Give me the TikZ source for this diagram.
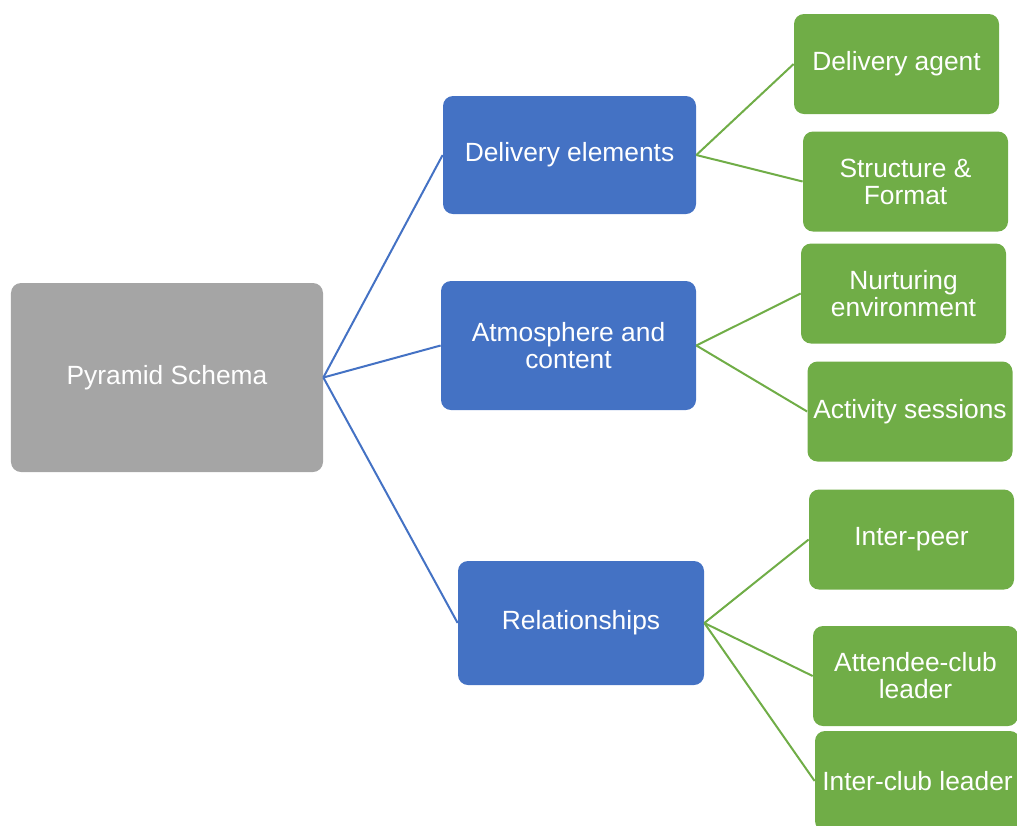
\documentclass[tikz,border=0pt]{standalone}
\usepackage{xcolor}
\usepackage{fontspec}
\setmainfont{Liberation Sans}
\definecolor{schema}{RGB}{165,165,165}
\definecolor{element}{RGB}{68,114,196}
\definecolor{detail}{RGB}{112,173,71}
\tikzstyle{box}=[rounded corners=.2cm, inner sep=0pt, align=center, text=white, font=\fontsize{15}{15.4}\selectfont]
\tikzstyle{root}=[box, fill=schema, minimum width=6.24cm, minimum height=3.78cm]
\tikzstyle{branch}=[box, fill=element, minimum height=2.4cm]
\tikzstyle{leaf}=[box, fill=detail, minimum width=4.1cm, minimum height=2cm]

\begin{document}
\begin{tikzpicture}
  \useasboundingbox (0,0) rectangle (20.34,-16.5);
  \draw (3.34,-7.55) node[root] (S) {Pyramid Schema};

  \draw (11.39,-3.10) node[branch,minimum width=5.06cm,minimum height=2.36cm] (E1) {Delivery elements};
  \draw (11.37,-6.91) node[branch,minimum width=5.10cm,minimum height=2.58cm] (E2) {Atmosphere and\\content};
  \draw (11.62,-12.46) node[branch,minimum width=4.92cm,minimum height=2.48cm] (E3) {Relationships};

  \draw (17.93,-1.28) node[leaf] (D11) {Delivery agent};
  \draw (18.11,-3.63) node[leaf] (D12) {Structure \&\\Format};
  \draw (18.07,-5.87) node[leaf] (D21) {Nurturing\\environment};
  \draw (18.20,-8.23) node[leaf] (D22) {Activity sessions};
  \draw (18.23,-10.79) node[leaf] (D31) {Inter-peer};
  \draw (18.31,-13.52) node[leaf] (D32) {Attendee-club\\leader};
  \draw (18.35,-15.62) node[leaf] (D33) {Inter-club leader};

  %% Schema to elements
  \draw[line width=.4mm, color=element] (S.east) -- (E1.west);
  \draw[line width=.4mm, color=element] (S.east) -- (E2.west);
  \draw[line width=.4mm, color=element] (S.east) -- (E3.west);

  %% Elements to details
  \draw[line width=.4mm, color=detail] (E1.east) -- (D11.west);
  \draw[line width=.4mm, color=detail] (E1.east) -- (D12.west);
  \draw[line width=.4mm, color=detail] (E2.east) -- (D21.west);
  \draw[line width=.4mm, color=detail] (E2.east) -- (D22.west);
  \draw[line width=.4mm, color=detail] (E3.east) -- (D31.west);
  \draw[line width=.4mm, color=detail] (E3.east) -- (D32.west);
  \draw[line width=.4mm, color=detail] (E3.east) -- (D33.west);
\end{tikzpicture}
\end{document}
